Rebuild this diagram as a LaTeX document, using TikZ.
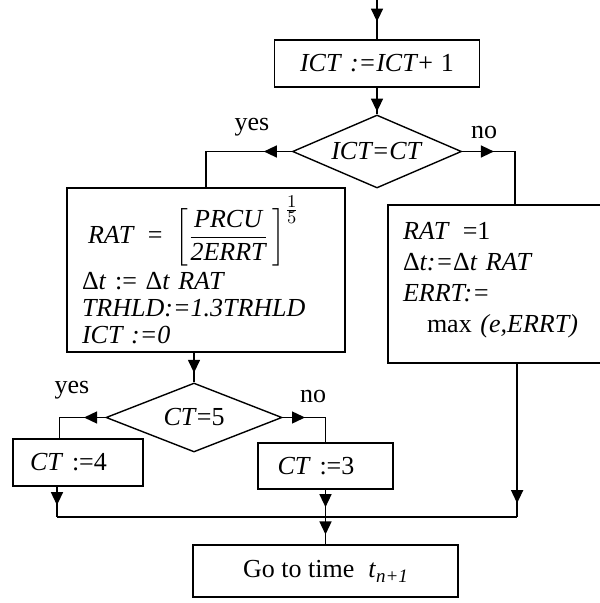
\documentclass[tikz,border=0pt]{standalone}
\usepackage{amsmath}
\usepackage{fontspec}
\setmainfont{Liberation Serif}
\usetikzlibrary{shapes.geometric,arrows.meta,decorations.markings,calc}

\tikzset{
    box/.style={draw, rectangle, inner sep=0pt},
    cond/.style={draw, diamond, inner sep=0pt, aspect=2.3},
    flow/.style={postaction={decorate}, decoration={markings,
        mark=at position #1 with {\arrow{Triangle[length=6.5pt,width=6pt]}}}},
}

\begin{document}
\begin{tikzpicture}[x=0.5pt, y=-0.5pt, line width=0.7pt, font=\fontsize{13}{15}\selectfont]
    \useasboundingbox (0,0) rectangle (599,603);

    % Contatore
    \coordinate (in) at (377,0);
    \node[box, minimum width=102.5pt, minimum height=23.5pt] (inc) at (377,63.5) {\textit{ICT}\hspace{4pt}\textit{:=ICT}+\hspace{4pt}1};
    \node[cond, minimum width=84.5pt, minimum height=36.5pt] (test1) at (377,151.5) {\textit{ICT=CT}};
    \node (yes1) at (252,127) {yes};
    \node (no1) at (484,133) {no};

    % Ramo yes: riduzione del passo
    \node[box, minimum width=139pt, minimum height=82pt, text width=124pt, align=left,
          font=\fontsize{13}{13.5}\selectfont] (adj) at (206,270) {
        \hspace*{3pt}\textit{RAT}\enspace=\enspace$\left[\dfrac{\textit{PRCU}}{\textit{2ERRT}}\,\right]^{\frac{\scriptstyle 1}{\scriptstyle 5}}$\\[2pt]
        Δ\textit{t} := Δ\textit{t RAT}\\
        \textit{TRHLD:=1.3TRHLD}\\
        \textit{ICT :=0}
    };

    % Ramo no: passo invariato
    \node[box, minimum width=111pt, minimum height=79pt, text width=96pt, align=left,
          font=\fontsize{13}{15.5}\selectfont] (keep) at (499,284) {
        \textit{RAT}\enspace=1\\
        Δ\textit{t:=}Δ\textit{t RAT}\\
        \textit{ERRT:=}\\
        \hspace*{12pt}max \textit{(e,ERRT)}\rule[-7pt]{0pt}{7pt}
    };
    \coordinate (keepin) at ($(keep.north west)!0.572!(keep.north east)$);
    \coordinate (keepout) at ($(keep.south west)!0.581!(keep.south east)$);

    % Secondo test
    \node[cond, minimum width=88pt, minimum height=34.5pt] (test2) at (194,417.5) {\textit{CT}=5};
    \node (yes2) at (72,390) {yes};
    \node (no2) at (313,396) {no};

    \node[box, minimum width=65pt, minimum height=23.5pt, text width=48pt, align=left] (ct4) at (78,462.5) {\textit{CT} :=4};
    \node[box, minimum width=67.5pt, minimum height=23pt, text width=48pt, align=left] (ct3) at (325.5,466) {\textit{CT} :=3};
    \coordinate (ct4in) at ($(ct4.north west)!0.36!(ct4.north east)$);
    \coordinate (ct4out) at ($(ct4.south west)!0.34!(ct4.south east)$);

    % Uscita
    \coordinate (merge) at (325.5,517);
    \node[box, minimum width=132.5pt, minimum height=26pt] (goto) at (325.5,571)
        {Go to time\hspace{7pt}\textit{t}\raisebox{-2.5pt}{\fontsize{9.5}{10}\selectfont\textit{n+1}}};

    % Collegamenti
    \draw[flow=0.55] (in) -- (inc);
    \draw[flow=0.9] (inc) -- (test1);
    \draw[flow=0.23] (test1.west) -| (adj.north);
    \draw[flow=0.3] (test1.east) -| (keepin);
    \draw[flow=0.68] (adj.south -| test2.north) -- (test2.north);
    \draw[flow=0.32] (test2.west) -| (ct4in);
    \draw[flow=0.33] (test2.east) -| (ct3.north);
    \draw[flow=0.61] (ct4out) -- (ct4out |- merge);
    \draw[flow=0.64] (ct3.south) -- (merge);
    \draw[flow=0.91] (keepout) -- (keepout |- merge);
    \draw (ct4out |- merge) -- (keepout |- merge);
    \draw[flow=0.64] (merge) -- (goto);
\end{tikzpicture}
\end{document}
